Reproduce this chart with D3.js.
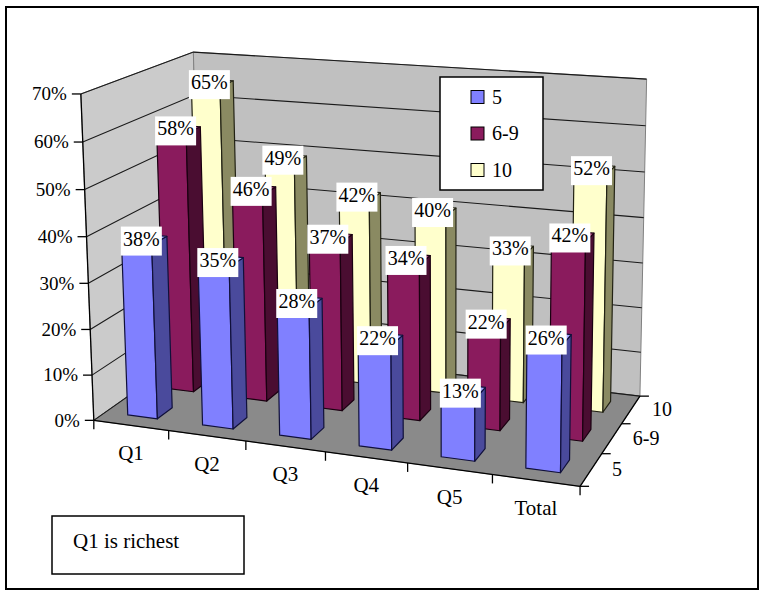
<!DOCTYPE html>
<html>
<head>
<meta charset="utf-8">
<script src="https://cdn.jsdelivr.net/npm/d3@7"></script>
<style>
  html, body { margin: 0; padding: 0; background: #fff; }
  svg { display: block; }
</style>
</head>
<body>
<svg id="chart" width="760" height="591"></svg>
<script>
// ---------------- data ----------------
const categories = ["Q1", "Q2", "Q3", "Q4", "Q5", "Total"];
const seriesNames = ["5", "6-9", "10"];
const values5  = [38, 35, 28, 22, 13, 26];
const values69 = [58, 46, 37, 34, 22, 42];
const values10 = [65, 49, 42, 40, 33, 52];
const yTicks = [0, 10, 20, 30, 40, 50, 60, 70];
const yTickLabels = ["0%", "10%", "20%", "30%", "40%", "50%", "60%", "70%"];
const legendLabels = ["5", "6-9", "10"];
const noteText = "Q1 is richest";

const seriesValues = [values5, values69, values10];

// ---------------- styles ----------------
const FONT = '"Liberation Serif"';
const faceColors = [
  { front: "#8080ff", side: "#4a4a9c", top: "#a6a6ff", stroke: "#10103a" },
  { front: "#8a1b5d", side: "#4a0d31", top: "#a8417e", stroke: "#1a0010" },
  { front: "#ffffcc", side: "#8a8a62", top: "#ffffe6", stroke: "#222214" }
];

// ---------------- scales (world units) ----------------
const x = d3.scaleBand().domain(categories).range([0, 6]).paddingInner(0.6).paddingOuter(0.3);
const z = d3.scaleBand().domain(seriesNames).range([0, 3]).paddingInner(0.6).paddingOuter(0.3);
const y = d3.scaleLinear().domain([0, 70]).range([0, 7]);

const X0 = 0, X1 = 6, Z0 = 0, Z1 = 3, Y0 = y(0), Y1 = y(70);

// ---------------- perspective camera (calibrated to the frame) ----------------
const cameraAnchors = [
  [[X0, Y0, Z0], [95, 420]],
  [[X0, Y1, Z0], [82, 92]],
  [[X0, Y1, Z1], [192, 53]],
  [[X1, Y1, Z1], [647, 80]],
  [[X1, Y0, Z1], [640, 395]],
  [[X1, Y0, Z0], [579, 486]],
  [[1, Y0, Z0], [168, 430]],
  [[2, Y0, Z0], [246, 442]],
  [[3, Y0, Z0], [325, 453]],
  [[4, Y0, Z0], [408, 464]],
  [[5, Y0, Z0], [491, 475]],
  [[X1, Y0, 1], [602, 453]],
  [[X1, Y0, 2], [623, 423]]
];

function solveCamera(anchors) {
  const s = 400, cu = 380, cv = 300;
  const A = [], b = [];
  anchors.forEach(([[X, Y, Z], [u, v]]) => {
    const un = (u - cu) / s, vn = (v - cv) / s;
    A.push([X, Y, Z, 1, 0, 0, 0, 0, -un * X, -un * Y, -un * Z]); b.push(un);
    A.push([0, 0, 0, 0, X, Y, Z, 1, -vn * X, -vn * Y, -vn * Z]); b.push(vn);
  });
  const n = 11;
  const M = [];
  for (let i = 0; i < n; i++) {
    const row = new Array(n + 1).fill(0);
    for (let j = 0; j < n; j++) {
      let sum = 0;
      for (let k = 0; k < A.length; k++) sum += A[k][i] * A[k][j];
      row[j] = sum;
    }
    let sb = 0;
    for (let k = 0; k < A.length; k++) sb += A[k][i] * b[k];
    row[n] = sb;
    M.push(row);
  }
  for (let c = 0; c < n; c++) {
    let piv = c;
    for (let r = c + 1; r < n; r++) if (Math.abs(M[r][c]) > Math.abs(M[piv][c])) piv = r;
    [M[c], M[piv]] = [M[piv], M[c]];
    for (let r = 0; r < n; r++) {
      if (r === c) continue;
      const f = M[r][c] / M[c][c];
      for (let k = c; k <= n; k++) M[r][k] -= f * M[c][k];
    }
  }
  const p = M.map((row, i) => row[n] / row[i]);
  return function (X, Y, Z) {
    const w = p[8] * X + p[9] * Y + p[10] * Z + 1;
    const u = (p[0] * X + p[1] * Y + p[2] * Z + p[3]) / w;
    const v = (p[4] * X + p[5] * Y + p[6] * Z + p[7]) / w;
    return [u * s + cu, v * s + cv];
  };
}
const P = solveCamera(cameraAnchors);
const poly = pts => pts.map(p => p.join(",")).join(" ");

function addText(sel, txt, size) {
  return sel.append("text").style("font-family", FONT).style("font-size", size + "px")
    .attr("fill", "#000").text(txt);
}

// ---------------- drawing ----------------
const svg = d3.select("#chart");

svg.append("rect").attr("x", 6).attr("y", 7).attr("width", 752).attr("height", 582)
  .attr("fill", "#fff").attr("stroke", "#000").attr("stroke-width", 2);

const g = svg.append("g");

// walls
g.append("polygon")
  .attr("points", poly([P(X0, Y0, Z0), P(X0, Y1, Z0), P(X0, Y1, Z1), P(X0, Y0, Z1)]))
  .attr("fill", "#cbcbcb").attr("stroke", "#808080").attr("stroke-width", 1);
g.append("polygon")
  .attr("points", poly([P(X0, Y0, Z1), P(X0, Y1, Z1), P(X1, Y1, Z1), P(X1, Y0, Z1)]))
  .attr("fill", "#c0c0c0").attr("stroke", "#808080").attr("stroke-width", 1);
// floor
g.append("polygon")
  .attr("points", poly([P(X0, Y0, Z0), P(X1, Y0, Z0), P(X1, Y0, Z1), P(X0, Y0, Z1)]))
  .attr("fill", "#8a8a8a").attr("stroke", "#6a6a6a").attr("stroke-width", 1);

// gridlines
g.append("g").selectAll("polyline").data(yTicks).join("polyline")
  .attr("points", d => poly([P(X0, y(d), Z0), P(X0, y(d), Z1), P(X1, y(d), Z1)]))
  .attr("fill", "none").attr("stroke", "#1a1a1a").attr("stroke-width", 1.1);

// value axis
const axisG = g.append("g");
axisG.append("line")
  .attr("x1", P(X0, Y0, Z0)[0]).attr("y1", P(X0, Y0, Z0)[1])
  .attr("x2", P(X0, Y1, Z0)[0]).attr("y2", P(X0, Y1, Z0)[1])
  .attr("stroke", "#000").attr("stroke-width", 1.3);
yTicks.forEach((t, i) => {
  const [px, py] = P(X0, y(t), Z0);
  axisG.append("line").attr("x1", px - 9).attr("y1", py).attr("x2", px).attr("y2", py)
    .attr("stroke", "#000").attr("stroke-width", 1.3);
  addText(axisG, yTickLabels[i], 19).attr("x", px - 14).attr("y", py).attr("dy", "0.33em")
    .attr("text-anchor", "end");
});

// category axis
axisG.append("line")
  .attr("x1", P(X0, Y0, Z0)[0]).attr("y1", P(X0, Y0, Z0)[1])
  .attr("x2", P(X1, Y0, Z0)[0]).attr("y2", P(X1, Y0, Z0)[1])
  .attr("stroke", "#000").attr("stroke-width", 1.3);
d3.range(categories.length + 1).forEach(i => {
  const [px, py] = P(i * x.step(), Y0, Z0);
  axisG.append("line").attr("x1", px).attr("y1", py).attr("x2", px).attr("y2", py + 9)
    .attr("stroke", "#000").attr("stroke-width", 1.3);
});
categories.forEach(c => {
  const [px, py] = P(x(c) + x.bandwidth() / 2, Y0, Z0);
  addText(axisG, c, 21).attr("x", px).attr("y", py + 28).attr("dy", "0.33em")
    .attr("text-anchor", "middle");
});

// series axis
axisG.append("line")
  .attr("x1", P(X1, Y0, Z0)[0]).attr("y1", P(X1, Y0, Z0)[1])
  .attr("x2", P(X1, Y0, Z1)[0]).attr("y2", P(X1, Y0, Z1)[1])
  .attr("stroke", "#000").attr("stroke-width", 1.3);
d3.range(seriesNames.length + 1).forEach(i => {
  const [px, py] = P(X1, Y0, i * z.step());
  axisG.append("line").attr("x1", px).attr("y1", py).attr("x2", px + 9).attr("y2", py)
    .attr("stroke", "#000").attr("stroke-width", 1.3);
});
seriesNames.forEach(s => {
  const [px, py] = P(X1, Y0, z(s) + z.bandwidth() / 2);
  addText(axisG, s, 20).attr("x", px + 21).attr("y", py).attr("dy", "0.33em")
    .attr("text-anchor", "start");
});

// bars: back row first, left to right
const barsG = g.append("g");
const labelData = [];
for (let si = seriesNames.length - 1; si >= 0; si--) {
  const s = seriesNames[si];
  const col = faceColors[si];
  categories.forEach((c, ci) => {
    const v = seriesValues[si][ci];
    const xa = x(c), xb = x(c) + x.bandwidth();
    const za = z(s), zb = z(s) + z.bandwidth();
    const h = y(v);
    const bg = barsG.append("g");
    bg.append("polygon").attr("points", poly([P(xa, 0, za), P(xb, 0, za), P(xb, h, za), P(xa, h, za)]))
      .attr("fill", col.front).attr("stroke", col.stroke).attr("stroke-width", 1.2).attr("stroke-linejoin", "round");
    bg.append("polygon").attr("points", poly([P(xb, 0, za), P(xb, 0, zb), P(xb, h, zb), P(xb, h, za)]))
      .attr("fill", col.side).attr("stroke", col.stroke).attr("stroke-width", 1.2).attr("stroke-linejoin", "round");
    bg.append("polygon").attr("points", poly([P(xa, h, za), P(xb, h, za), P(xb, h, zb), P(xa, h, zb)]))
      .attr("fill", col.top).attr("stroke", col.stroke).attr("stroke-width", 1.2).attr("stroke-linejoin", "round");
    labelData.push({ pos: P(xa + x.bandwidth() / 2, h, za + z.bandwidth() / 2), text: v + "%" });
  });
}

// data labels
const lblG = g.append("g");
labelData.forEach(d => {
  const cx = d.pos[0] - 3, cy = d.pos[1] + 2;
  const w = 41, hgt = 29;
  lblG.append("rect").attr("x", cx - w / 2).attr("y", cy - hgt / 2).attr("width", w).attr("height", hgt)
    .attr("fill", "#fff");
  addText(lblG, d.text, 20).attr("x", cx).attr("y", cy - hgt / 2 + 19).attr("text-anchor", "middle");
});

// legend
const leg = svg.append("g");
leg.append("rect").attr("x", 440).attr("y", 77).attr("width", 103).attr("height", 113)
  .attr("fill", "#fff").attr("stroke", "#000").attr("stroke-width", 1.5);
legendLabels.forEach((l, i) => {
  const cy = 97 + i * 36.5;
  leg.append("rect").attr("x", 471).attr("y", cy - 6.5).attr("width", 13).attr("height", 13)
    .attr("fill", faceColors[i].front).attr("stroke", "#000").attr("stroke-width", 1);
  addText(leg, l, 20).attr("x", 492).attr("y", cy).attr("dy", "0.33em");
});

// note box
svg.append("rect").attr("x", 52).attr("y", 516).attr("width", 192).attr("height", 58)
  .attr("fill", "#fff").attr("stroke", "#000").attr("stroke-width", 1.5);
addText(svg, noteText, 21).attr("x", 73).attr("y", 548);
</script>
</body>
</html>
